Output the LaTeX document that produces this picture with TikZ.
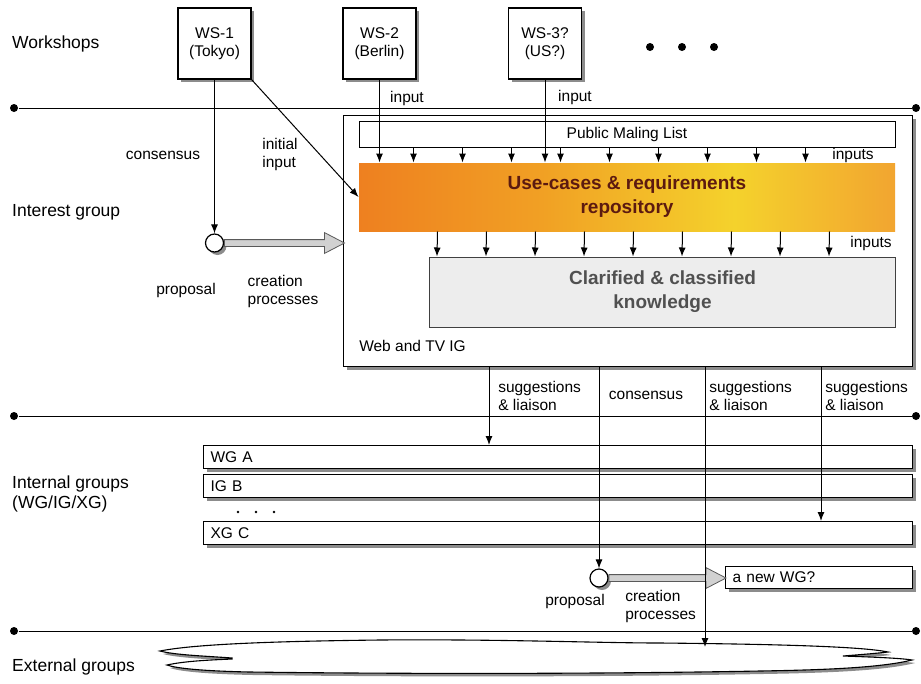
\documentclass[tikz,border=0pt]{standalone}
\usepackage{fontspec}
\setmainfont{Liberation Sans}
\usetikzlibrary{arrows.meta,shadows,shapes.arrows,calc}

\definecolor{ucorange}{RGB}{238,128,32}
\definecolor{ucmid}{RGB}{241,160,36}
\definecolor{ucyellow}{RGB}{244,210,44}
\definecolor{ucright}{RGB}{242,165,48}
\definecolor{ucbrown}{RGB}{92,26,16}
\definecolor{clfill}{RGB}{237,237,237}
\definecolor{cltext}{RGB}{80,80,80}
\pgfdeclarehorizontalshading{ucshading}{100bp}{color(0bp)=(ucorange); color(25bp)=(ucorange); color(42bp)=(ucmid); color(60bp)=(ucyellow); color(75bp)=(ucright); color(100bp)=(ucright)}

\begin{document}
\begin{tikzpicture}[x=1pt,y=-1pt,line width=1pt,
	every node/.style={font=\fontsize{15.5}{18}\selectfont},
	rowlbl/.style={anchor=west,align=left,inner sep=0.75pt,font=\fontsize{17.5}{20}\selectfont},
	lbl/.style={align=left,inner sep=0.75pt},
	shade3/.style={preaction={fill=black!45,transform canvas={shift={(3pt,-3pt)}}}},
	box/.style={draw,fill=white,line width=1.2pt,shade3},
	bar/.style={box,anchor=north west,minimum height=23pt,text width=695pt,inner xsep=7pt,inner ysep=0pt,align=left},
	sepdot/.style={circle,fill,inner sep=0pt,minimum size=8pt},
	prop/.style={circle,draw,fill=white,minimum size=18pt,inner sep=0pt,line width=1.2pt,shade3},
	fatarrow/.style={single arrow,draw=black!65,fill=black!18,line width=0.8pt,inner sep=3pt,minimum width=0pt,single arrow head extend=7pt,single arrow tip angle=55,anchor=west},
	arr/.style={-{Latex[length=9pt,width=7pt]}}]
	\useasboundingbox (0,0) rectangle (921,683);

	% Text Node
	\node[rowlbl] (rw) at (11,44) {Workshops};
	\node[rowlbl] (ri) at (11,212) {Interest group};
	\node[rowlbl] (rg) at (11,494) {Internal groups\\(WG/IG/XG)};
	\node[rowlbl] (re) at (11,667) {External groups};

	%Separators
	\node[sepdot] (a1) at (14,108) {};
	\node[sepdot] (a2) at (916,108) {};
	\node[sepdot] (b1) at (14,416) {};
	\node[sepdot] (b2) at (916,416) {};
	\node[sepdot] (c1) at (14,631) {};
	\node[sepdot] (c2) at (916,631) {};
	\draw (a1) -- (a2);
	\draw (b1) -- (b2);
	\draw (c1) -- (c2);

	%Workshops
	\node[box,minimum width=73pt,minimum height=71pt,align=center] (ws1) at (214.5,43.5) {WS-1\\(Tokyo)};
	\node[box,minimum width=73pt,minimum height=71pt,align=center] (ws2) at (379.5,43.5) {WS-2\\(Berlin)};
	\node[box,minimum width=73pt,minimum height=71pt,align=center] (ws3) at (545,43.5) {WS-3?\\(US?)};
	\foreach \x in {650,682,714}
		\fill (\x,47) circle (4pt);

	%Interest group
	\node[box,anchor=north west,minimum width=569pt,minimum height=251pt] (ig) at (343,115) {};
	\node[draw,fill=white,minimum width=536pt,minimum height=26pt] (pml) at (627,134) {Public Maling List};
	\node[shading=ucshading,minimum width=536pt,minimum height=68pt,align=center,text=ucbrown,font=\bfseries\fontsize{19}{24}\selectfont] (uc) at (627,197) {Use-cases \& requirements\\repository};
	\node[draw=black!75,fill=clfill,minimum width=466pt,minimum height=70pt,align=center,text=cltext,font=\bfseries\fontsize{19}{24}\selectfont] (cl) at (662.5,292) {Clarified \& classified\\knowledge};
	\node[lbl,anchor=west] (ign) at (358,346) {Web and TV IG};

	\foreach \d in {55,104,...,449}
		\draw[arr] ($(pml.south west)+(\d,0)$) -- ($(uc.north west)+(\d,0)$);
	\foreach \d in {79,128,...,473}
		\draw[arr] ($(uc.south west)+(\d,0)$) -- ($(cl.north west)+(\d-71,0)$);

	\node[prop] (p1) at (214.5,243) {};
	\node[fatarrow,minimum height=120pt] (f1) at (p1.east) {};
	\draw[arr] (ws1.south) -- (p1.north);
	\draw[arr] (ws1.south east) -- (uc.west);
	\draw[arr] (ws2.south) -- (ws2.south |- uc.north);
	\draw[arr] (ws3.south) -- (ws3.south |- uc.north);

	% Text Node
	\node[lbl] at (407,98) {input};
	\node[lbl] at (575,97) {input};
	\node[lbl] at (853,155) {inputs};
	\node[lbl] at (871,243) {inputs};
	\node[lbl] at (163,155) {consensus};
	\node[lbl] at (280,154) {initial\\input};
	\node[lbl] at (186,290) {proposal};
	\node[lbl] at (283,291) {creation\\processes};

	%Internal groups
	\node[bar] (wga) at (203,445) {WG A};
	\node[bar] (igb) at (203,474) {IG B};
	\node[bar] (xgc) at (203,521) {XG C};
	\foreach \x in {238,256,274}
		\fill (\x,512) circle (1.4pt);

	\node[prop] (p2) at (599,578) {};
	\node[box,anchor=north west,minimum height=22pt,text width=173pt,inner xsep=7pt,inner ysep=0pt,align=left] (nwg) at (725,566) {a new WG?};
	\node[fatarrow,minimum height=117pt] (f2) at (p2.east) {};

	%External groups
	\draw[fill=white,line width=1.1pt,shade3] (232,658) .. controls (205,656) and (175,655) .. (160,651)
		.. controls (200,643) and (300,641) .. (380,640)
		.. controls (500,639) and (600,643) .. (660,643)
		.. controls (760,644) and (860,646) .. (888,652)
		.. controls (870,654) and (855,655) .. (843,656)
		.. controls (870,657) and (900,658) .. (912,660)
		.. controls (880,668) and (820,670) .. (760,671)
		.. controls (600,674) and (400,674) .. (250,672)
		.. controls (200,671) and (175,668) .. (167,665)
		.. controls (185,661) and (210,660) .. (232,659) -- cycle;
	\coordinate (ext) at (705,647);

	%Links from the IG
	\coordinate (s1) at (489,400);
	\coordinate (s2) at (599,400);
	\coordinate (s3) at (705,400);
	\coordinate (s4) at (821,400);
	\draw[arr] (s1 |- ig.south) -- (s1 |- wga.north);
	\draw[arr] (s2 |- ig.south) -- (p2.north);
	\draw[arr] (s3 |- ig.south) -- (ext);
	\draw[arr] (s4 |- ig.south) -- (s4 |- xgc.north);

	% Text Node
	\node[lbl,anchor=west] at (497,396) {suggestions\\\& liaison};
	\node[lbl] at (646,395) {consensus};
	\node[lbl,anchor=west] at (708,396) {suggestions\\\& liaison};
	\node[lbl,anchor=west] at (824,396) {suggestions\\\& liaison};
	\node[lbl] at (575,601) {proposal};
	\node[lbl,anchor=west] at (624,606) {creation\\processes};
\end{tikzpicture}
\end{document}
